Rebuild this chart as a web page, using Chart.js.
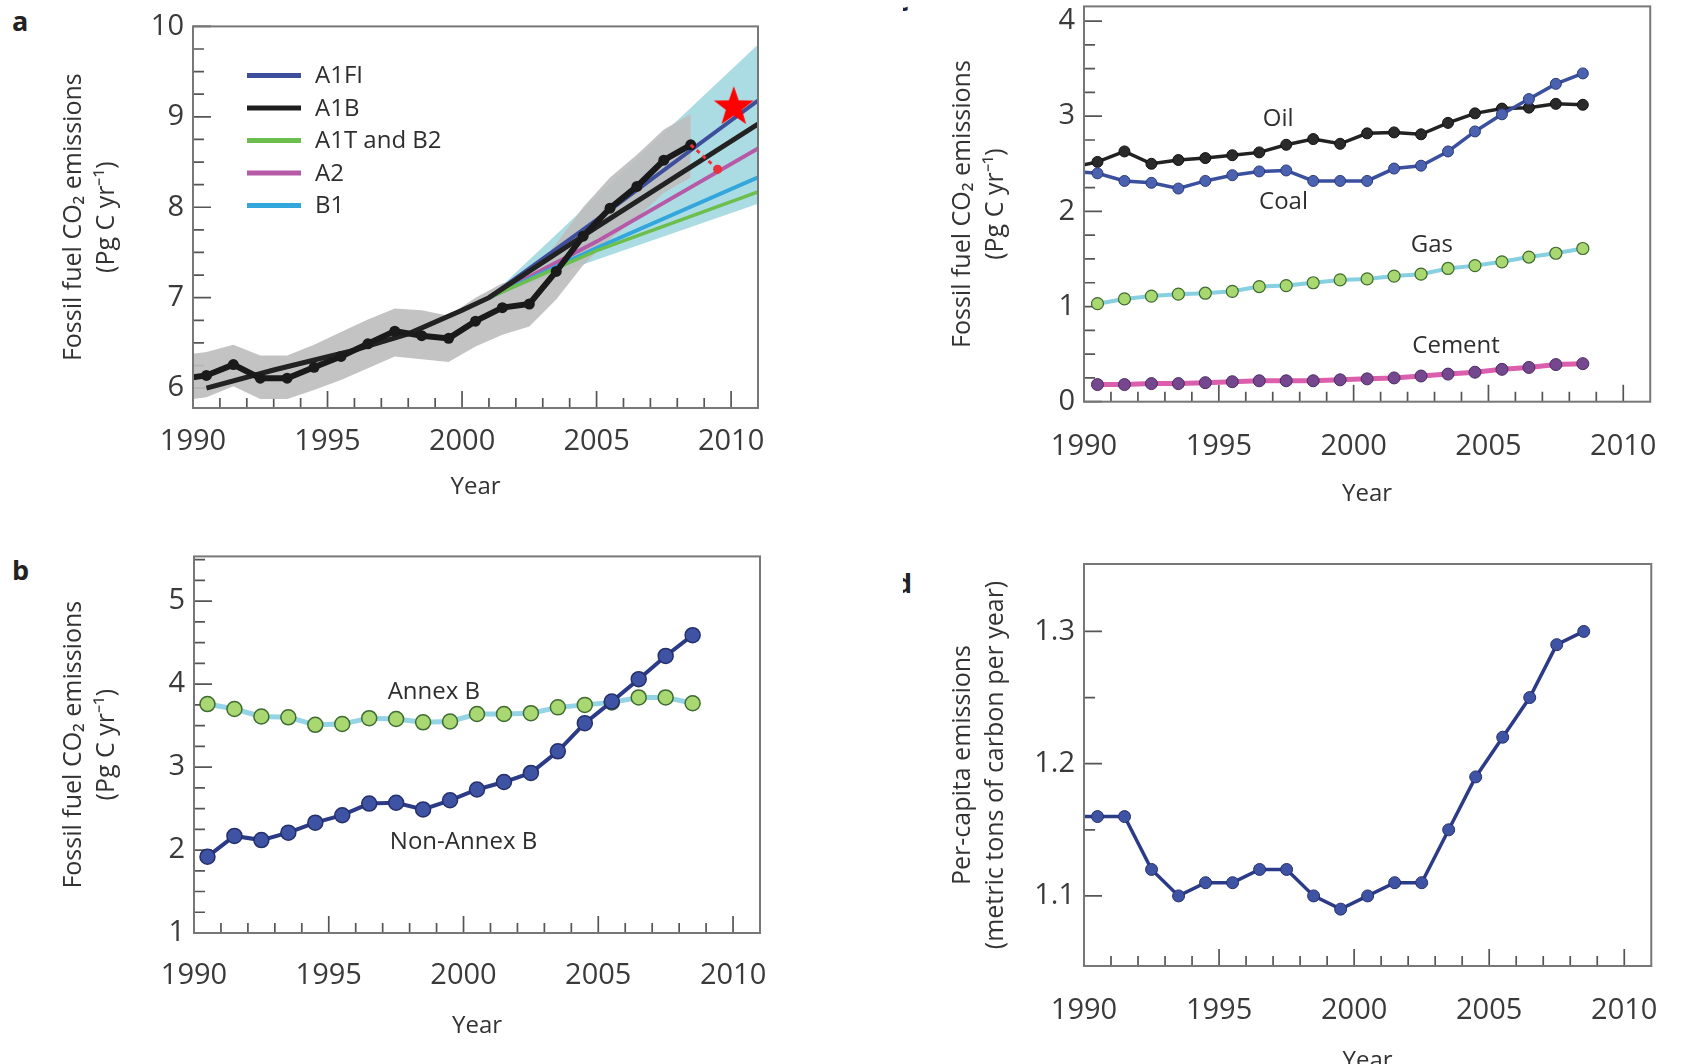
<!DOCTYPE html>
<html>
<head>
<meta charset="utf-8">
<script src="https://cdn.jsdelivr.net/npm/chart.js@4.4.1/dist/chart.umd.min.js"></script>
<style>
  body { margin: 0; background: #fff; width: 1685px; height: 1064px; overflow: hidden; position: relative; }
  .panel { position: absolute; }
  .letter { position: absolute; font: bold 27px 'Open Sans', 'Liberation Sans', sans-serif; color: #222; line-height: 30px; }
  .clip { position: absolute; overflow: hidden; }
</style>
</head>
<body>
<div class="letter" style="left:12px;top:6px">a</div>
<div class="letter" style="left:12px;top:555px">b</div>
<div class="clip" style="left:903px;top:0;width:10px;height:18px"><div class="letter" style="left:-8px;top:-14px">c</div></div>
<div class="clip" style="left:903px;top:570px;width:10px;height:26px"><div class="letter" style="left:-8px;top:-2px">d</div></div>

<div class="panel" style="left:0;top:0;width:820px;height:530px"><canvas id="chartA"></canvas></div>
<div class="panel" style="left:0;top:530px;width:820px;height:534px"><canvas id="chartB"></canvas></div>
<div class="panel" style="left:880px;top:-20px;width:805px;height:550px"><canvas id="chartC"></canvas></div>
<div class="panel" style="left:880px;top:530px;width:805px;height:560px"><canvas id="chartD"></canvas></div>

<script>
// ---- data (years are plotted at mid-year) ----
const years = [1990, 1991, 1992, 1993, 1994, 1995, 1996, 1997, 1998, 1999,
               2000, 2001, 2002, 2003, 2004, 2005, 2006, 2007, 2008];
const xTickYears = [1990, 1995, 2000, 2005, 2010];

// a: global fossil fuel emissions and SRES scenarios
const observed      = [6.14, 6.26, 6.11, 6.11, 6.23, 6.35, 6.49, 6.63, 6.58, 6.55, 6.74, 6.89, 6.93, 7.29, 7.68, 7.99, 8.23, 8.52, 8.69];
const observedUpper = [6.40, 6.48, 6.36, 6.36, 6.48, 6.62, 6.76, 6.88, 6.86, 6.80, 7.00, 7.16, 7.22, 7.60, 8.00, 8.33, 8.58, 8.86, 9.03];
const observedLower = [5.90, 6.02, 5.88, 5.88, 5.98, 6.09, 6.22, 6.35, 6.32, 6.29, 6.46, 6.59, 6.68, 6.98, 7.36, 7.65, 7.88, 8.16, 8.33];
const observedEdge  = [6.12, 6.38, 5.88];          // value, upper, lower where the record meets the 1990 axis
const a1bYears   = [1990.5, 1993, 1996, 1998, 2000, 2001, 2005, 2011];
const a1bValues  = [6.00, 6.20, 6.42, 6.60, 6.86, 7.00, 7.78, 8.92];
const scenYears  = [2001, 2005, 2011];
const scenA1FI   = [7.00, 7.86, 9.18];
const scenA1TB2  = [7.00, 7.52, 8.17];
const scenA2     = [7.00, 7.62, 8.65];
const scenB1     = [7.00, 7.55, 8.33];
const sresUpper  = [7.00, 8.12, 9.80];
const sresLower  = [7.00, 7.42, 8.04];
const projYears  = [2008.5, 2009.5];
const projValues = [8.69, 8.42];
const starYear = [2010.1], starValue = [9.13];
const legendLabels = ['A1FI', 'A1B', 'A1T and B2', 'A2', 'B1'];
const yTicksA = [6, 7, 8, 9, 10];

// b: Annex B / non-Annex B
const annexB    = [3.76, 3.70, 3.61, 3.60, 3.51, 3.52, 3.59, 3.58, 3.54, 3.55, 3.64, 3.64, 3.65, 3.72, 3.75, 3.78, 3.84, 3.84, 3.77];
const nonAnnexB = [1.92, 2.17, 2.12, 2.21, 2.33, 2.42, 2.56, 2.57, 2.49, 2.60, 2.73, 2.82, 2.93, 3.19, 3.53, 3.79, 4.06, 4.34, 4.59];
const yTicksB = [1, 2, 3, 4, 5];

// c: by fuel type
const oil     = [2.52, 2.63, 2.50, 2.54, 2.56, 2.59, 2.62, 2.70, 2.76, 2.71, 2.82, 2.83, 2.81, 2.93, 3.03, 3.08, 3.09, 3.13, 3.12];
const coal    = [2.40, 2.32, 2.30, 2.24, 2.32, 2.38, 2.42, 2.43, 2.32, 2.32, 2.32, 2.45, 2.48, 2.63, 2.84, 3.02, 3.18, 3.34, 3.45];
const gas     = [1.03, 1.08, 1.11, 1.13, 1.14, 1.16, 1.21, 1.22, 1.25, 1.28, 1.29, 1.32, 1.34, 1.40, 1.43, 1.47, 1.52, 1.56, 1.61];
const cement  = [0.18, 0.18, 0.19, 0.19, 0.20, 0.21, 0.22, 0.22, 0.22, 0.23, 0.24, 0.25, 0.27, 0.29, 0.31, 0.34, 0.36, 0.39, 0.40];
const oilEdge = 2.49, coalEdge = 2.41;
const yTicksC = [0, 1, 2, 3, 4];

// d: per-capita emissions
const perCapita = [1.16, 1.16, 1.12, 1.10, 1.11, 1.11, 1.12, 1.12, 1.10, 1.09, 1.10, 1.11, 1.11, 1.15, 1.19, 1.22, 1.25, 1.29, 1.30];
const perCapitaEdge = 1.16;
const yTicksD = [1.1, 1.2, 1.3];

// ---- helpers ----
const FONT = "'Open Sans', 'Liberation Sans', sans-serif";
Chart.defaults.font.family = FONT;
Chart.defaults.animation = false;
Chart.defaults.plugins.legend.display = false;
Chart.defaults.plugins.tooltip.enabled = false;

const mid = years.map(y => y + 0.5);
const pts = (xs, ys) => xs.map((x, i) => ({ x: x, y: ys[i] }));
const withEdge = (edge, ys) => [{ x: 1990, y: edge }].concat(pts(mid, ys));
const noEdgeDot = r => ctx => (ctx.dataIndex === 0 ? 0 : r);

function steps(from, to, step) {
  const out = [];
  for (let v = from; v <= to + 1e-9; v += step) out.push(Math.round(v * 1000) / 1000);
  return out;
}

function starImage(size, color) {
  const c = document.createElement('canvas');
  c.width = c.height = size;
  const g = c.getContext('2d');
  g.fillStyle = color;
  g.beginPath();
  for (let i = 0; i < 10; i++) {
    const r = i % 2 ? size * 0.2 : size * 0.5;
    const ang = -Math.PI / 2 + i * Math.PI / 5;
    g.lineTo(size / 2 + r * Math.cos(ang), size * 0.55 + r * Math.sin(ang));
  }
  g.closePath();
  g.fill();
  return c;
}

// inner tick marks, box, text notes and the inset legend
const framePlugin = {
  id: 'frame',
  beforeDatasetsDraw(chart, args, o) {
    const { ctx, chartArea: a, scales: { x, y } } = chart;
    ctx.save();
    ctx.strokeStyle = '#555';
    ctx.lineWidth = 1.7;
    ctx.beginPath();
    for (let yr = 1991; yr <= 2010; yr++) {
      const px = x.getPixelForValue(yr);
      const len = yr % 5 === 0 ? 17 : 10;
      ctx.moveTo(px, a.bottom);
      ctx.lineTo(px, a.bottom - len);
    }
    o.yMinor.forEach(v => {
      const py = y.getPixelForValue(v);
      const major = o.yMajor.some(m => Math.abs(m - v) < 1e-6);
      ctx.moveTo(a.left, py);
      ctx.lineTo(a.left + (major ? 18 : 11), py);
    });
    ctx.stroke();
    ctx.restore();
  },
  afterDatasetsDraw(chart, args, o) {
    const { ctx, chartArea: a, scales: { x, y } } = chart;
    ctx.save();
    ctx.strokeStyle = '#777';
    ctx.lineWidth = 2;
    ctx.strokeRect(a.left, a.top, a.right - a.left, a.bottom - a.top);

    ctx.fillStyle = '#2e2e2e';
    ctx.font = '24px ' + FONT;
    ctx.textAlign = 'center';
    ctx.textBaseline = 'middle';
    (o.notes || []).forEach(n => ctx.fillText(n.text, x.getPixelForValue(n.x), y.getPixelForValue(n.y)));

    if (o.legend) {
      ctx.textAlign = 'left';
      o.legend.labels.forEach((lab, i) => {
        const ly = a.top + 49 + i * 32.5;
        ctx.strokeStyle = o.legend.colors[i];
        ctx.lineWidth = 5;
        ctx.beginPath();
        ctx.moveTo(a.left + 54, ly);
        ctx.lineTo(a.left + 108, ly);
        ctx.stroke();
        ctx.fillText(lab, a.left + 122, ly + 1);
      });
    }
    ctx.restore();
  }
};

function axes(o) {
  return {
    x: {
      type: 'linear', min: 1990, max: 2011,
      grid: { display: false, drawTicks: false },
      border: { display: false },
      afterBuildTicks: s => { s.ticks = xTickYears.map(v => ({ value: v })); },
      afterFit: s => { s.height = o.xHeight; },
      ticks: { padding: o.xPad, color: '#3a3a3a', font: { size: 29 }, maxRotation: 0, autoSkip: false,
               callback: v => String(v) },
      title: { display: true, text: 'Year', color: '#333', font: { size: 24, lineHeight: 1.2 }, padding: { top: 0, bottom: o.xTitlePad } }
    },
    y: {
      type: 'linear', min: o.yMin, max: o.yMax,
      grid: { display: false, drawTicks: false },
      border: { display: false },
      afterBuildTicks: s => { s.ticks = o.yTicks.map(v => ({ value: v })); },
      afterFit: s => { s.width = o.yWidth; },
      ticks: { padding: 9, color: '#3a3a3a', font: { size: 29 }, autoSkip: false,
               callback: v => (o.decimals ? v.toFixed(o.decimals) : String(v)) },
      title: { display: true, text: o.yTitle, color: '#333', font: { size: 25, lineHeight: 1.3 }, padding: { top: o.yTitlePad, bottom: 0 } }
    }
  };
}

const co2Title = ['Fossil fuel CO\u2082 emissions', '(Pg C yr\u207B\u00B9)'];

// ---- a ----
const scenColors = ['#3d4e9c', '#1e1e1e', '#6cbf4c', '#b65aa8', '#33a6dc'];
new Chart(document.getElementById('chartA'), {
  type: 'line',
  data: {
    datasets: [
      { data: pts(scenYears, sresUpper), fill: '+1', backgroundColor: 'rgba(158,214,222,0.85)', borderWidth: 0, pointRadius: 0, order: 10 },
      { data: pts(scenYears, sresLower), fill: false, borderWidth: 0, pointRadius: 0, order: 10 },
      { data: [{ x: 1990, y: observedEdge[1] }].concat(pts(mid, observedUpper)), fill: '+1', backgroundColor: 'rgba(190,190,190,0.92)', borderWidth: 0, pointRadius: 0, order: 9 },
      { data: [{ x: 1990, y: observedEdge[2] }].concat(pts(mid, observedLower)), fill: false, borderWidth: 0, pointRadius: 0, order: 9 },
      { label: 'A1T and B2', data: pts(scenYears, scenA1TB2), borderColor: scenColors[2], borderWidth: 3.5, pointRadius: 0, order: 6 },
      { label: 'B1', data: pts(scenYears, scenB1), borderColor: scenColors[4], borderWidth: 4, pointRadius: 0, order: 6 },
      { label: 'A2', data: pts(scenYears, scenA2), borderColor: scenColors[3], borderWidth: 4, pointRadius: 0, order: 6 },
      { label: 'A1FI', data: pts(scenYears, scenA1FI), borderColor: scenColors[0], borderWidth: 4, pointRadius: 0, order: 5 },
      { label: 'A1B', data: pts(a1bYears, a1bValues), borderColor: '#222', borderWidth: 5, pointRadius: 0, order: 4 },
      { label: 'Observed', data: withEdge(observedEdge[0], observed), borderColor: '#1a1a1a', borderWidth: 6,
        pointRadius: noEdgeDot(5.5), pointBackgroundColor: '#1a1a1a', pointBorderWidth: 0, order: 2 },
      { data: pts(projYears, projValues), borderColor: '#e8323c', borderWidth: 3, borderDash: [4, 4],
        pointRadius: [0, 4.5], pointBackgroundColor: '#e8323c', pointBorderWidth: 0, order: 1 },
      { data: pts(starYear, starValue), showLine: false, pointStyle: starImage(42, '#ff0000'), order: 0 }
    ]
  },
  options: {
    responsive: true, maintainAspectRatio: false,
    layout: { padding: { left: 0, top: 20, right: 62, bottom: 0 } },
    scales: axes({ yMin: 5.78, yMax: 10, yTicks: yTicksA, yWidth: 193, xHeight: 122, xPad: 16, xTitlePad: 28,
                   yTitle: co2Title, yTitlePad: 58 }),
    plugins: { frame: { yMajor: yTicksA, yMinor: steps(6, 10, 0.25),
                        legend: { labels: legendLabels, colors: scenColors } } }
  },
  plugins: [framePlugin]
});

// ---- b ----
new Chart(document.getElementById('chartB'), {
  type: 'line',
  data: {
    datasets: [
      { label: 'Annex B', data: pts(mid, annexB), borderColor: '#95d3e6', borderWidth: 5,
        pointRadius: 7.5, pointBackgroundColor: '#a9d772', pointBorderColor: '#3e6b30', pointBorderWidth: 1.5, order: 2 },
      { label: 'Non-Annex B', data: pts(mid, nonAnnexB), borderColor: '#2c3b88', borderWidth: 4,
        pointRadius: 7.5, pointBackgroundColor: '#3f53a4', pointBorderColor: '#25306b', pointBorderWidth: 1.5, order: 1 }
    ]
  },
  options: {
    responsive: true, maintainAspectRatio: false,
    layout: { padding: { left: 0, top: 25, right: 60, bottom: 0 } },
    scales: axes({ yMin: 1, yMax: 5.54, yTicks: yTicksB, yWidth: 194, xHeight: 131, xPad: 25, xTitlePad: 23,
                   yTitle: co2Title, yTitlePad: 58 }),
    plugins: { frame: { yMajor: yTicksB, yMinor: steps(1, 5.5, 0.25),
                        notes: [{ text: 'Annex B', x: 1998.9, y: 3.90 }, { text: 'Non-Annex B', x: 2000.0, y: 2.09 }] } }
  },
  plugins: [framePlugin]
});

// ---- c ----
new Chart(document.getElementById('chartC'), {
  type: 'line',
  data: {
    datasets: [
      { label: 'Cement', data: pts(mid, cement), borderColor: '#dc5fae', borderWidth: 5,
        pointRadius: 6, pointBackgroundColor: '#75478f', pointBorderColor: '#4a2b63', pointBorderWidth: 1, order: 4 },
      { label: 'Gas', data: pts(mid, gas), borderColor: '#86d0e2', borderWidth: 4,
        pointRadius: 6, pointBackgroundColor: '#a9d870', pointBorderColor: '#3d6a2e', pointBorderWidth: 1.2, order: 3 },
      { label: 'Oil', data: withEdge(oilEdge, oil), borderColor: '#222', borderWidth: 3.5,
        pointRadius: noEdgeDot(5.5), pointBackgroundColor: '#2a2a2a', pointBorderColor: '#111', pointBorderWidth: 1, order: 2 },
      { label: 'Coal', data: withEdge(coalEdge, coal), borderColor: '#3a4f9e', borderWidth: 3.5,
        pointRadius: noEdgeDot(5.5), pointBackgroundColor: '#4a62b0', pointBorderColor: '#2b3a7a', pointBorderWidth: 1, order: 1 }
    ]
  },
  options: {
    responsive: true, maintainAspectRatio: false,
    layout: { padding: { left: 0, top: 20, right: 12, bottom: 0 } },
    scales: axes({ yMin: 0, yMax: 4.154, yTicks: yTicksC, yWidth: 204, xHeight: 128.3, xPad: 28, xTitlePad: 21,
                   yTitle: co2Title, yTitlePad: 67 }),
    plugins: { frame: { yMajor: yTicksC, yMinor: steps(0, 4, 0.25),
                        notes: [{ text: 'Oil', x: 1997.2, y: 2.97 }, { text: 'Coal', x: 1997.4, y: 2.10 },
                                { text: 'Gas', x: 2002.9, y: 1.65 }, { text: 'Cement', x: 2003.8, y: 0.58 }] } }
  },
  plugins: [framePlugin]
});

// ---- d ----
new Chart(document.getElementById('chartD'), {
  type: 'line',
  data: {
    datasets: [
      { label: 'Per-capita', data: withEdge(perCapitaEdge, perCapita), borderColor: '#2c3b88', borderWidth: 3.5,
        pointRadius: noEdgeDot(6), pointBackgroundColor: '#3f53a4', pointBorderColor: '#25306b', pointBorderWidth: 1 }
    ]
  },
  options: {
    responsive: true, maintainAspectRatio: false,
    layout: { padding: { left: 0, top: 34, right: 12, bottom: 0 } },
    scales: axes({ yMin: 1.047, yMax: 1.351, yTicks: yTicksD, yWidth: 204, xHeight: 124, xPad: 27, xTitlePad: 14,
                   yTitle: ['Per-capita emissions', '(metric tons of carbon per year)'], yTitlePad: 67, decimals: 1 }),
    plugins: { frame: { yMajor: yTicksD, yMinor: steps(1.1, 1.3, 0.05) } }
  },
  plugins: [framePlugin]
});
</script>
</body>
</html>
